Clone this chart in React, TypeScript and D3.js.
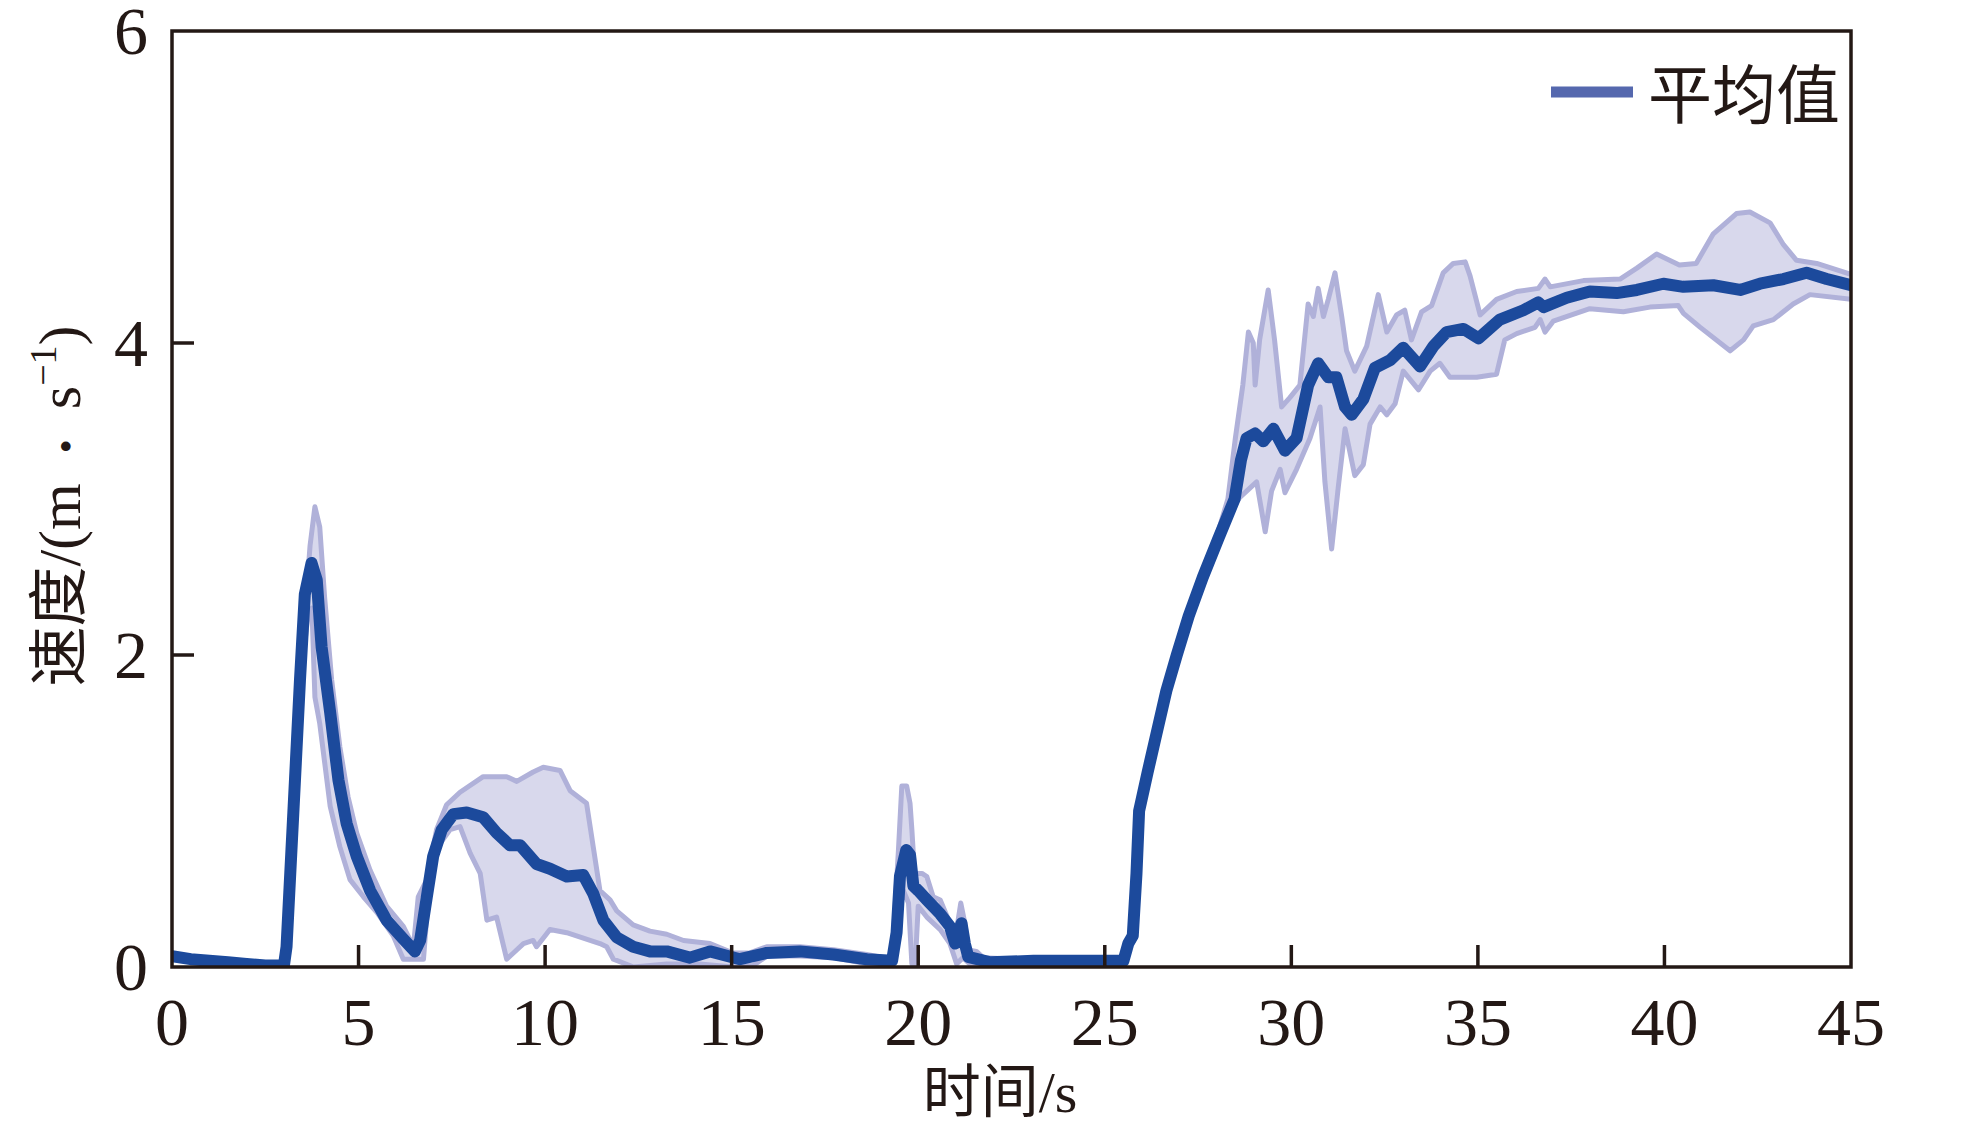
import React from "react";
import * as d3 from "d3";

// ---- data (time in s, speed in m/s) ----
const meanT = [0, 0.5, 1.0, 1.5, 2.0, 2.5, 3.0, 3.07, 3.25, 3.43, 3.56, 3.74, 3.88, 4.01, 4.24, 4.46, 4.68, 4.95, 5.31, 5.75, 6.2, 6.51, 6.65, 6.83, 7.0, 7.23, 7.54, 7.9, 8.34, 8.7, 9.06, 9.33, 9.77, 10.13, 10.58, 11.02, 11.29, 11.56, 11.92, 12.36, 12.81, 13.26, 13.88, 14.42, 15.22, 15.94, 16.83, 17.73, 18.62, 19.3, 19.42, 19.51, 19.68, 19.78, 19.87, 20.0, 20.23, 20.59, 20.85, 20.99, 21.16, 21.25, 21.34, 21.93, 23.09, 23.98, 25.5, 25.63, 25.75, 25.85, 25.92, 26.15, 26.39, 26.65, 26.93, 27.25, 27.63, 28.05, 28.48, 28.65, 28.8, 29.03, 29.25, 29.52, 29.83, 30.14, 30.45, 30.72, 30.99, 31.21, 31.44, 31.62, 31.93, 32.24, 32.65, 33.0, 33.45, 33.81, 34.16, 34.61, 35.02, 35.59, 36.22, 36.62, 36.76, 37.38, 38.0, 38.72, 39.26, 39.97, 40.51, 41.31, 42.03, 42.56, 43.19, 43.81, 44.35, 45.0];
const meanV = [0.07, 0.05, 0.04, 0.03, 0.02, 0.01, 0.01, 0.13, 0.98, 1.84, 2.39, 2.59, 2.48, 2.05, 1.63, 1.2, 0.92, 0.71, 0.49, 0.3, 0.18, 0.1, 0.17, 0.45, 0.71, 0.88, 0.98, 0.99, 0.96, 0.86, 0.78, 0.78, 0.66, 0.63, 0.58, 0.59, 0.47, 0.3, 0.19, 0.13, 0.1, 0.1, 0.06, 0.1, 0.05, 0.09, 0.1, 0.08, 0.05, 0.04, 0.22, 0.58, 0.75, 0.72, 0.52, 0.49, 0.43, 0.34, 0.26, 0.15, 0.28, 0.15, 0.065, 0.03, 0.04, 0.04, 0.04, 0.15, 0.2, 0.6, 1.0, 1.25, 1.5, 1.77, 2.0, 2.25, 2.5, 2.75, 3.0, 3.25, 3.39, 3.42, 3.37, 3.45, 3.31, 3.39, 3.73, 3.87, 3.78, 3.78, 3.59, 3.54, 3.64, 3.84, 3.89, 3.97, 3.85, 3.98, 4.07, 4.09, 4.03, 4.15, 4.21, 4.26, 4.23, 4.29, 4.33, 4.32, 4.34, 4.38, 4.36, 4.37, 4.34, 4.38, 4.41, 4.45, 4.41, 4.37];

const upperT = [0, 3.0, 3.43, 3.7, 3.83, 3.96, 4.09, 4.28, 4.5, 4.72, 4.95, 5.31, 5.75, 6.2, 6.47, 6.6, 6.83, 7.09, 7.36, 7.72, 8.34, 8.97, 9.24, 9.68, 9.95, 10.4, 10.67, 11.11, 11.29, 11.47, 11.74, 11.92, 12.36, 12.81, 13.26, 13.71, 14.42, 15.04, 15.49, 15.94, 16.83, 17.73, 18.62, 19.3, 19.47, 19.56, 19.69, 19.78, 19.83, 19.9, 20.1, 20.23, 20.4, 20.59, 20.85, 21.03, 21.14, 21.25, 21.34, 21.56, 21.74, 22.64, 25.5, 25.63, 25.75, 25.85, 25.92, 26.15, 26.39, 26.65, 26.93, 27.25, 27.63, 28.05, 28.3, 28.5, 28.7, 28.85, 28.98, 29.03, 29.15, 29.38, 29.55, 29.74, 29.96, 30.23, 30.45, 30.59, 30.72, 30.86, 30.99, 31.17, 31.35, 31.48, 31.7, 32.02, 32.33, 32.56, 32.82, 33.04, 33.22, 33.49, 33.76, 34.07, 34.34, 34.66, 34.79, 35.06, 35.5, 36.04, 36.62, 36.8, 36.94, 37.83, 38.81, 39.26, 39.79, 40.4, 40.85, 41.31, 41.93, 42.29, 42.83, 43.19, 43.54, 44.08, 45.0];
const upperV = [0.07, 0.01, 1.84, 2.7, 2.95, 2.82, 2.37, 1.84, 1.41, 1.09, 0.86, 0.62, 0.39, 0.26, 0.13, 0.45, 0.56, 0.88, 1.04, 1.12, 1.22, 1.22, 1.19, 1.25, 1.28, 1.26, 1.13, 1.05, 0.77, 0.49, 0.43, 0.36, 0.27, 0.23, 0.21, 0.17, 0.15, 0.09, 0.09, 0.13, 0.13, 0.11, 0.08, 0.05, 0.75, 1.16, 1.16, 1.05, 0.88, 0.6, 0.6, 0.58, 0.45, 0.43, 0.28, 0.24, 0.41, 0.28, 0.11, 0.1, 0.06, 0.05, 0.05, 0.17, 0.25, 0.65, 1.05, 1.3, 1.55, 1.82, 2.05, 2.3, 2.55, 2.8, 3.0, 3.39, 3.73, 4.07, 4.0, 3.73, 4.02, 4.34, 4.02, 3.59, 3.65, 3.73, 4.25, 4.17, 4.35, 4.17, 4.28, 4.45, 4.17, 3.95, 3.82, 3.98, 4.31, 4.07, 4.18, 4.21, 4.02, 4.2, 4.24, 4.45, 4.51, 4.52, 4.43, 4.18, 4.28, 4.33, 4.35, 4.41, 4.36, 4.4, 4.41, 4.48, 4.57, 4.5, 4.51, 4.7, 4.83, 4.84, 4.77, 4.63, 4.53, 4.51, 4.44];

const lowerT = [0, 3.0, 3.43, 3.65, 3.75, 3.83, 3.96, 4.24, 4.5, 4.77, 5.13, 5.49, 5.93, 6.2, 6.74, 6.92, 7.18, 7.45, 7.72, 7.99, 8.26, 8.44, 8.7, 8.97, 9.15, 9.42, 9.68, 9.77, 10.13, 10.58, 11.47, 11.65, 11.83, 12.37, 13.26, 14.14, 15.04, 15.58, 15.94, 16.83, 17.73, 18.62, 19.33, 19.47, 19.6, 19.74, 19.83, 19.92, 20.0, 20.23, 20.59, 20.85, 21.03, 21.2, 21.38, 22.64, 25.5, 25.63, 25.75, 25.85, 25.92, 26.15, 26.39, 26.65, 26.93, 27.25, 27.63, 28.05, 28.3, 28.62, 29.07, 29.3, 29.47, 29.7, 29.83, 30.14, 30.5, 30.77, 30.9, 31.08, 31.26, 31.44, 31.7, 31.93, 32.11, 32.38, 32.56, 32.78, 33.0, 33.41, 33.72, 33.98, 34.25, 34.97, 35.5, 35.72, 36.04, 36.53, 36.67, 36.8, 37.02, 38.0, 38.9, 39.61, 40.37, 40.51, 40.96, 41.76, 42.12, 42.38, 42.92, 43.45, 43.9, 45.0];
const lowerV = [0.07, 0.01, 1.8, 2.27, 2.3, 1.73, 1.56, 1.03, 0.77, 0.56, 0.45, 0.35, 0.2, 0.05, 0.05, 0.6, 0.79, 0.88, 0.9, 0.73, 0.6, 0.3, 0.32, 0.05, 0.09, 0.15, 0.17, 0.13, 0.24, 0.22, 0.15, 0.13, 0.05, 0.0, 0.02, 0.02, 0.0, 0.01, 0.07, 0.07, 0.06, 0.02, 0.03, 0.32, 0.49, 0.41, 0.02, 0.02, 0.39, 0.32, 0.24, 0.15, 0.02, 0.06, 0.02, 0.02, 0.02, 0.12, 0.16, 0.55, 0.95, 1.2, 1.45, 1.72, 1.95, 2.2, 2.45, 2.7, 2.9, 3.01, 3.11, 2.79, 3.05, 3.19, 3.04, 3.19, 3.39, 3.59, 3.11, 2.68, 3.08, 3.45, 3.15, 3.22, 3.48, 3.59, 3.54, 3.61, 3.82, 3.7, 3.82, 3.87, 3.78, 3.78, 3.8, 4.02, 4.06, 4.1, 4.15, 4.07, 4.14, 4.22, 4.2, 4.23, 4.24, 4.19, 4.1, 3.95, 4.02, 4.11, 4.15, 4.25, 4.31, 4.28];

const xTicks = [0, 5, 10, 15, 20, 25, 30, 35, 40, 45];
const yTicks = [0, 2, 4, 6];
const xTitle = "时间/s";
const legendLabel = "平均值";

const W = 1969;
const H = 1135;
const L = 172, R = 1851, T = 31, B = 967;
const INK = "#231815";
const SERIF = "'Liberation Serif', 'Times New Roman', 'Noto Sans CJK SC', serif";

export default function App() {
  const x = d3.scaleLinear().domain([0, 45]).range([L, R]);
  const y = d3.scaleLinear().domain([0, 6]).range([B, T]);

  const mean: [number, number][] = meanT.map((t, i) => [t, meanV[i]]);
  const upper: [number, number][] = upperT.map((t, i) => [t, upperV[i]]);
  const lower: [number, number][] = lowerT.map((t, i) => [t, lowerV[i]]);

  const line = d3.line<[number, number]>().x((d) => x(d[0])).y((d) => y(d[1]));
  const bandPoly = line([...upper, ...lower.slice().reverse()]) + "Z";

  return (
    <svg width={W} height={H} style={{ position: "absolute", left: 0, top: 0, background: "#fff" }}>
      <defs>
        <clipPath id="plot">
          <rect x={L} y={T - 10} width={R - L} height={B - T + 10} />
        </clipPath>
      </defs>
      <g clipPath="url(#plot)">
        <path d={bandPoly} fill="#d8d8ec" stroke="none" />
        <path d={line(upper) || ""} fill="none" stroke="#b0b1d9" strokeWidth={5} strokeLinejoin="round" />
        <path d={line(lower) || ""} fill="none" stroke="#b0b1d9" strokeWidth={5} strokeLinejoin="round" />
        <path d={line(mean) || ""} fill="none" stroke="#1c4a9c" strokeWidth={12} strokeLinejoin="round" strokeLinecap="round" />
      </g>

      {/* frame */}
      <rect x={L} y={T} width={R - L} height={B - T} fill="none" stroke={INK} strokeWidth={3.5} />

      {/* x ticks */}
      {xTicks.map((t) => (
        <g key={"x" + t}>
          {t > 0 && t < 45 && <line x1={x(t)} x2={x(t)} y1={B} y2={B - 22} stroke={INK} strokeWidth={3.5} />}
          <text x={x(t)} y={1045} textAnchor="middle" fontFamily={SERIF} fontSize={68} fill={INK}>
            {t}
          </text>
        </g>
      ))}
      {/* y ticks */}
      {yTicks.map((v) => (
        <g key={"y" + v}>
          {v > 0 && v < 6 && <line x1={L} x2={L + 22} y1={y(v)} y2={y(v)} stroke={INK} strokeWidth={3.5} />}
          <text x={148} y={y(v) + 23} textAnchor="end" fontFamily={SERIF} fontSize={68} fill={INK}>
            {v}
          </text>
        </g>
      ))}

      {/* axis titles */}
      <text x={1000} y={1112} textAnchor="middle" fontFamily={SERIF} fontSize={58} fill={INK}>
        {xTitle}
      </text>
      <text
        transform="translate(80,506) rotate(-90)"
        textAnchor="middle"
        fontFamily={SERIF}
        fontSize={60}
        fill={INK}
      >
        速度/(m{"\u2002"}
        <tspan fontSize={40}>•</tspan>
        {"\u2002"}s
        <tspan fontSize={38} dy={-24}>−1</tspan>
        <tspan dy={24}>)</tspan>
      </text>

      {/* legend */}
      <line x1={1551} x2={1633} y1={92} y2={92} stroke="#5568ae" strokeWidth={11} />
      <text x={1648} y={118} fontFamily={SERIF} fontSize={64} fill={INK}>
        {legendLabel}
      </text>
    </svg>
  );
}
